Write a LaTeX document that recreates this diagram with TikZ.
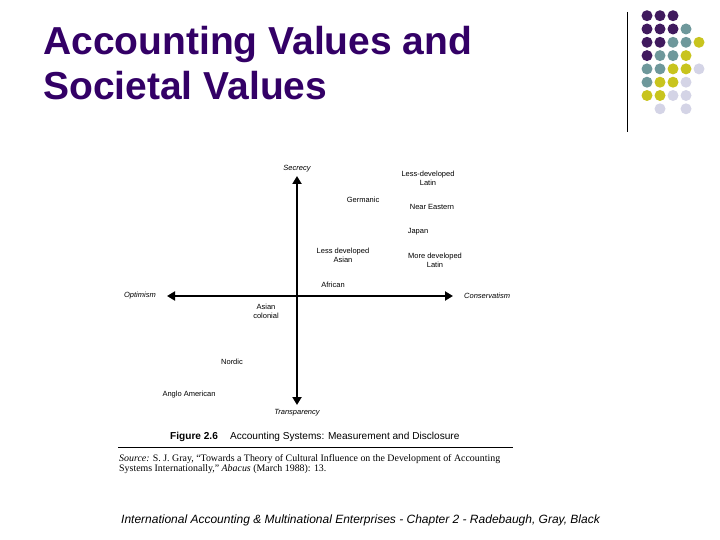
\documentclass[tikz,border=0pt]{standalone}
\usepackage{fontspec}
\setmainfont{Liberation Serif}
\setsansfont{Liberation Sans}
\usetikzlibrary{arrows.meta, positioning}
\definecolor{titlepurple}{RGB}{51,0,102}
\definecolor{dotpurple}{RGB}{64,26,94}
\definecolor{dotteal}{RGB}{110,152,155}
\definecolor{dotyellow}{RGB}{200,196,30}
\definecolor{dotlilac}{RGB}{212,212,230}
\tikzset{
	title/.style = {anchor=base west, inner sep=0pt, text=titlepurple, font=\sffamily\bfseries\fontsize{39}{45}\selectfont},
	group/.style = {align=center, inner sep=0pt, font=\sffamily\fontsize{7.5}{9}\selectfont},
	pole/.style = {inner sep=0pt, font=\sffamily\itshape\fontsize{7.5}{9}\selectfont},
	axis/.style = {{Triangle[length=8pt, width=9pt]}-{Triangle[length=8pt, width=9pt]}, line width=2.6pt, draw=black},
	caption/.style = {anchor=west, inner sep=0pt, font=\sffamily\fontsize{10.1}{12}\selectfont},
	source/.style = {anchor=north west, align=left, inner sep=0pt, font=\rmfamily\fontsize{9.9}{10.2}\selectfont},
	footer/.style = {anchor=west, inner sep=0pt, font=\sffamily\itshape\fontsize{12}{14}\selectfont}
}

\begin{document}
\begin{tikzpicture}[x=1pt, y=-1pt]
	\useasboundingbox (0,0) rectangle (720,540);

	%% title
	\node (title1) [title] at (43,55) {Accounting Values and};
	\node (title2) [title] at (43,100) {Societal Values};

	%% dots and bar
	\draw [line width=1pt] (627,12) -- (627,132);
	\foreach \r/\row in {0/{0/dotpurple,1/dotpurple,2/dotpurple},
			1/{0/dotpurple,1/dotpurple,2/dotpurple,3/dotteal},
			2/{0/dotpurple,1/dotpurple,2/dotteal,3/dotteal,4/dotyellow},
			3/{0/dotpurple,1/dotteal,2/dotteal,3/dotyellow},
			4/{0/dotteal,1/dotteal,2/dotyellow,3/dotyellow,4/dotlilac},
			5/{0/dotteal,1/dotyellow,2/dotyellow,3/dotlilac},
			6/{0/dotyellow,1/dotyellow,2/dotlilac,3/dotlilac},
			7/{1/dotlilac,3/dotlilac}}
		\foreach \c/\clr in \row
			\fill [\clr] (647+13*\c,15.7+13.3*\r) circle (5.5);

	%% diagram
	% axis ends
	\coordinate (origin) at (297,296);
	\coordinate (top) at (297,176);
	\coordinate (bottom) at (297,405);
	\coordinate (left) at (167,296);
	\coordinate (right) at (453,296);
	% pole labels
	\node (secrecy) [pole, above=4pt of top] {Secrecy};
	\node (transp) [pole, below=4pt of bottom] {Transparency};
	\node (optim) [pole, left=11pt of left] {Optimism};
	\node (conserv) [pole, right=11pt of right] {Conservatism};
	% groups
	\node (ldlatin) [group] at (428,178.5) {Less-developed\\Latin};
	\node (germanic) [group] at (363,200) {Germanic};
	\node (neareast) [group] at (432,207) {Near Eastern};
	\node (japan) [group] at (418,232) {Japan};
	\node (ldasian) [group] at (343,255.5) {Less developed\\Asian};
	\node (mdlatin) [group] at (435,260.5) {More developed\\Latin};
	\node (african) [group] at (333,285) {African};
	\node (ascolon) [group] at (266,311) {Asian\\colonial};
	\node (nordic) [group] at (232,362) {Nordic};
	\node (anglo) [group] at (189,395) {Anglo American};

	%%% arrows %%%
	\draw [axis] (top) -- (bottom);
	\draw [axis] (left) -- (right);

	%% figure caption and source
	\node (caption) [caption] at (170,437) {\textbf{Figure 2.6}\hspace{1.2em}Accounting Systems: Measurement and Disclosure};
	\coordinate (ruleL) at (118,447);
	\coordinate (ruleR) at (513,447);
	\draw [line width=0.8pt] (ruleL) -- (ruleR);
	\node (source) [source] at (119,454) {\textit{Source:} S. J. Gray, ``Towards a Theory of Cultural Influence on the Development of Accounting\\Systems Internationally,'' \textit{Abacus} (March 1988): 13.};

	%% footer
	\node (footer) [footer] at (121,520) {International Accounting \& Multinational Enterprises - Chapter 2 - Radebaugh, Gray, Black};
\end{tikzpicture}
\end{document}
